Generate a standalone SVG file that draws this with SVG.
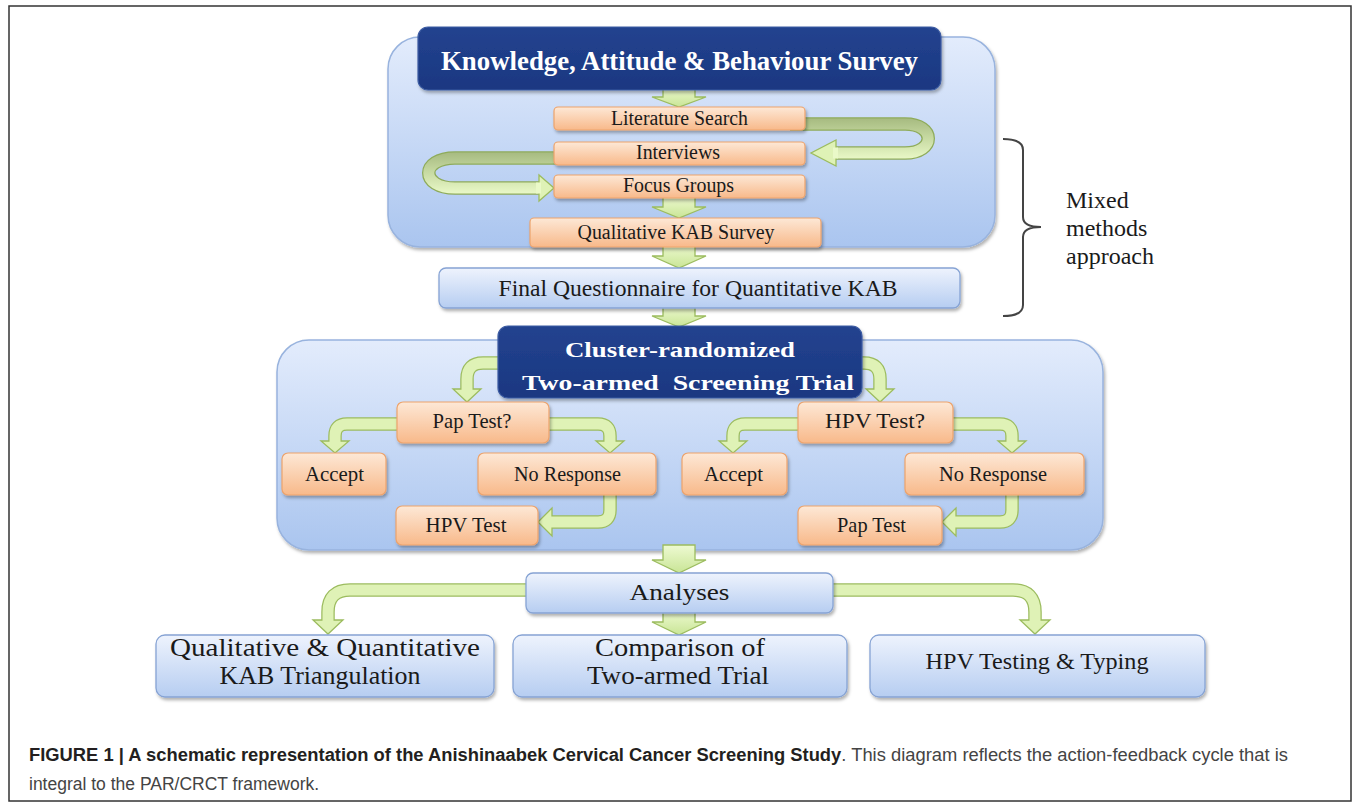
<svg xmlns="http://www.w3.org/2000/svg" width="1355" height="806" viewBox="0 0 1355 806">
<defs>
<linearGradient id="gCont" x1="0" y1="0" x2="0" y2="1"><stop offset="0" stop-color="#e3ecfc"/><stop offset="1" stop-color="#aac5ef"/></linearGradient>
<linearGradient id="gDark" x1="0" y1="0" x2="0" y2="1"><stop offset="0" stop-color="#23438f"/><stop offset="1" stop-color="#1a3781"/></linearGradient>
<linearGradient id="gOr" x1="0" y1="0" x2="0" y2="1"><stop offset="0" stop-color="#fde8d6"/><stop offset="1" stop-color="#f8b98a"/></linearGradient>
<linearGradient id="gBlue" x1="0" y1="0" x2="0" y2="1"><stop offset="0" stop-color="#eef3fd"/><stop offset="1" stop-color="#b6cdf1"/></linearGradient>
<linearGradient id="gGr" x1="0" y1="0" x2="0" y2="1"><stop offset="0" stop-color="#eefad2"/><stop offset="1" stop-color="#c9e596"/></linearGradient>
<linearGradient id="gLoopR" gradientUnits="userSpaceOnUse" x1="0" y1="118" x2="0" y2="160"><stop offset="0" stop-color="#a6ba80"/><stop offset="0.45" stop-color="#c5d8a0"/><stop offset="1" stop-color="#eaf9c8"/></linearGradient>
<linearGradient id="gLoopL" gradientUnits="userSpaceOnUse" x1="0" y1="152" x2="0" y2="194"><stop offset="0" stop-color="#a6ba80"/><stop offset="0.45" stop-color="#c5d8a0"/><stop offset="1" stop-color="#eaf9c8"/></linearGradient>
<filter id="sh" x="-10%" y="-20%" width="120%" height="150%"><feDropShadow dx="1.5" dy="2.5" stdDeviation="1.8" flood-color="#000" flood-opacity="0.3"/></filter>
</defs>
<style>
.cont{fill:url(#gCont);stroke:#98b3de;stroke-width:1.5;filter:url(#sh)}
.dark{fill:url(#gDark);stroke:#3d5ca3;stroke-width:1.2;filter:url(#sh)}
.or{fill:url(#gOr);stroke:#eda36c;stroke-width:1.2;filter:url(#sh)}
.bl{fill:url(#gBlue);stroke:#86a3d4;stroke-width:1.3;filter:url(#sh)}
.ht{font-family:"Liberation Serif","Times New Roman",serif;font-weight:bold;fill:#ffffff;text-anchor:middle}
.t{font-family:"Liberation Serif","Times New Roman",serif;fill:#1a1a1a;text-anchor:middle}
.fat{fill:url(#gGr);stroke:#9cbc5f;stroke-width:1.3}
.ao{fill:none;stroke:#9cbc5f;stroke-width:13.5}
.ai{fill:none;stroke:#dff2b6;stroke-width:11}
.ah{fill:#dff2b6;stroke:#9cbc5f;stroke-width:1.3}
.cap{font-family:"Liberation Sans",Arial,sans-serif;font-size:17.5px}
</style>
<rect x="9" y="6" width="1342" height="795" fill="#ffffff" stroke="#333333" stroke-width="1.5"/>

<g id="container-kab"><rect class="cont" x="388" y="37" width="607" height="210" rx="32"/></g>
<g id="container-trial"><rect class="cont" x="277" y="340" width="826" height="210" rx="32"/></g>

<g id="connectors">
<polygon class="fat" points="663,86 695,86 695,97 706,97 679,107 652,97 663,97"/>
<polygon class="fat" points="663,196 695,196 695,207 706,207 679,218 652,207 663,207"/>
<polygon class="fat" points="663,244 695,244 695,256 706,256 679,268 652,256 663,256"/>
<polygon class="fat" points="663,305 695,305 695,316 706,316 679,327 652,316 663,316"/>
<polygon class="fat" points="663,545 695,545 695,560 706,560 679,573 652,560 663,560"/>
<polygon class="fat" points="663,610 695,610 695,622 706,622 679,635 652,622 663,622"/>
<path d="M790 124 L905 124 C936 124 936 153 905 153 L834 153" fill="none" stroke="#8eab5a" stroke-width="13.5"/>
<path d="M790 124 L905 124 C936 124 936 153 905 153 L834 153" fill="none" stroke="url(#gLoopR)" stroke-width="11"/>
<polygon class="ah" points="836,140 836,166 811,153"/>
<path d="M838 153 L833 153" fill="none" stroke="#eaf9c8" stroke-width="11"/>
<path d="M570 158 L455 158 C420 158 420 188 455 188 L541 188" fill="none" stroke="#8eab5a" stroke-width="13.5"/>
<path d="M570 158 L455 158 C420 158 420 188 455 188 L541 188" fill="none" stroke="url(#gLoopL)" stroke-width="11"/>
<polygon class="ah" points="539,175 539,201 554,188"/>
<path d="M536 188 L541 188" fill="none" stroke="#eaf9c8" stroke-width="11"/>
<path class="ao" d="M505 363 L483 363 Q467 363 467 379 L467 390"/>
<polygon class="ah" points="453,389 481,389 467,402"/>
<path class="ai" d="M505 363 L483 363 Q467 363 467 379 L467 391"/>
<path class="ao" d="M858 363 L864 363 Q880 363 880 379 L880 390"/>
<polygon class="ah" points="866,389 894,389 880,402"/>
<path class="ai" d="M858 363 L864 363 Q880 363 880 379 L880 391"/>
<path class="ao" d="M400 424 L347 424 Q335 424 335 436 L335 442"/>
<polygon class="ah" points="321,441 349,441 335,453"/>
<path class="ai" d="M400 424 L347 424 Q335 424 335 436 L335 443"/>
<path class="ao" d="M548 424 L598 424 Q610 424 610 436 L610 442"/>
<polygon class="ah" points="596,441 624,441 610,453"/>
<path class="ai" d="M548 424 L598 424 Q610 424 610 436 L610 443"/>
<path class="ao" d="M610 490 L610 510 Q610 522 598 522 L551 522"/>
<polygon class="ah" points="552,508 552,536 538,522"/>
<path class="ai" d="M610 490 L610 510 Q610 522 598 522 L550 522"/>
<path class="ao" d="M802 424 L745 424 Q733 424 733 436 L733 442"/>
<polygon class="ah" points="719,441 747,441 733,453"/>
<path class="ai" d="M802 424 L745 424 Q733 424 733 436 L733 443"/>
<path class="ao" d="M950 424 L1000 424 Q1012 424 1012 436 L1012 442"/>
<polygon class="ah" points="998,441 1026,441 1012,453"/>
<path class="ai" d="M950 424 L1000 424 Q1012 424 1012 436 L1012 443"/>
<path class="ao" d="M1012 490 L1012 510 Q1012 522 1000 522 L955 522"/>
<polygon class="ah" points="956,508 956,536 942,522"/>
<path class="ai" d="M1012 490 L1012 510 Q1012 522 1000 522 L954 522"/>
<path class="ao" d="M535 590 L350 590 Q328 590 328 612 L328 621"/>
<polygon class="ah" points="313,620 343,620 328,634"/>
<path class="ai" d="M535 590 L350 590 Q328 590 328 612 L328 622"/>
<path class="ao" d="M825 590 L1013 590 Q1035 590 1035 612 L1035 621"/>
<polygon class="ah" points="1020,620 1050,620 1035,634"/>
<path class="ai" d="M825 590 L1013 590 Q1035 590 1035 612 L1035 622"/>
</g>

<g id="kab-header"><rect class="dark" x="418" y="27" width="523" height="63" rx="10"/>
<text class="ht" x="679.5" y="70" font-size="27" textLength="477" lengthAdjust="spacingAndGlyphs">Knowledge, Attitude &amp; Behaviour Survey</text></g>
<g id="literature-search"><rect class="or" x="554" y="107" width="251" height="23" rx="4"/>
<text class="t" x="679.5" y="125" font-size="20" textLength="137" lengthAdjust="spacingAndGlyphs">Literature Search</text></g>
<g id="interviews"><rect class="or" x="554" y="142" width="251" height="23" rx="4"/>
<text class="t" x="678" y="159" font-size="20" textLength="84" lengthAdjust="spacingAndGlyphs">Interviews</text></g>
<g id="focus-groups"><rect class="or" x="554" y="175" width="251" height="23" rx="4"/>
<text class="t" x="678.5" y="192" font-size="20" textLength="111" lengthAdjust="spacingAndGlyphs">Focus Groups</text></g>
<g id="qualitative-kab"><rect class="or" x="530" y="218" width="291" height="29" rx="4"/>
<text class="t" x="676" y="239" font-size="20" textLength="197" lengthAdjust="spacingAndGlyphs">Qualitative KAB Survey</text></g>
<g id="final-questionnaire"><rect class="bl" x="439" y="268" width="521" height="40" rx="7"/>
<text class="t" x="698" y="296" font-size="23" textLength="399" lengthAdjust="spacingAndGlyphs">Final Questionnaire for Quantitative KAB</text></g>

<g id="mixed-methods">
<path d="M1003 139 Q1023 139 1023 150 L1023 217 Q1023 227 1041 227 Q1023 227 1023 237 L1023 305 Q1023 316 1003 316" fill="none" stroke="#444444" stroke-width="2"/>
<text font-family="'Liberation Serif','Times New Roman',serif" font-size="24" fill="#1a1a1a"><tspan x="1066" y="208">Mixed</tspan><tspan x="1066" y="236">methods</tspan><tspan x="1066" y="264">approach</tspan></text>
</g>

<g id="trial-header"><rect class="dark" x="498" y="326" width="364" height="72" rx="10"/>
<text class="ht" x="680" y="357" font-size="22" textLength="230" lengthAdjust="spacingAndGlyphs">Cluster-randomized</text>
<text class="ht" x="688" y="390" font-size="22" textLength="332" lengthAdjust="spacingAndGlyphs" xml:space="preserve">Two-armed  Screening Trial</text></g>

<g id="pap-test-q"><rect class="or" x="397" y="402" width="152" height="41" rx="6"/>
<text class="t" x="472" y="428" font-size="21" textLength="79" lengthAdjust="spacingAndGlyphs">Pap Test?</text></g>
<g id="accept-1"><rect class="or" x="282" y="453" width="104" height="42" rx="6"/>
<text class="t" x="334.5" y="481" font-size="21" textLength="59" lengthAdjust="spacingAndGlyphs">Accept</text></g>
<g id="no-response-1"><rect class="or" x="478" y="453" width="178" height="42" rx="6"/>
<text class="t" x="567.5" y="481" font-size="21" textLength="107" lengthAdjust="spacingAndGlyphs">No Response</text></g>
<g id="hpv-test-1"><rect class="or" x="396" y="506" width="142" height="39" rx="6"/>
<text class="t" x="466" y="532" font-size="21" textLength="81" lengthAdjust="spacingAndGlyphs">HPV Test</text></g>

<g id="hpv-test-q"><rect class="or" x="798" y="402" width="155" height="41" rx="6"/>
<text class="t" x="875" y="428" font-size="21" textLength="100" lengthAdjust="spacingAndGlyphs">HPV Test?</text></g>
<g id="accept-2"><rect class="or" x="682" y="453" width="105" height="42" rx="6"/>
<text class="t" x="733.5" y="481" font-size="21" textLength="59" lengthAdjust="spacingAndGlyphs">Accept</text></g>
<g id="no-response-2"><rect class="or" x="905" y="453" width="179" height="42" rx="6"/>
<text class="t" x="993" y="481" font-size="21" textLength="108" lengthAdjust="spacingAndGlyphs">No Response</text></g>
<g id="pap-test-2"><rect class="or" x="798" y="506" width="144" height="39" rx="6"/>
<text class="t" x="871.5" y="532" font-size="21" textLength="69" lengthAdjust="spacingAndGlyphs">Pap Test</text></g>

<g id="analyses"><rect class="bl" x="526" y="573" width="307" height="40" rx="7"/>
<text class="t" x="679.5" y="600" font-size="23" textLength="100" lengthAdjust="spacingAndGlyphs">Analyses</text></g>
<g id="triangulation"><rect class="bl" x="156" y="635" width="338" height="62" rx="9"/>
<text class="t" x="325" y="656" font-size="25" textLength="310" lengthAdjust="spacingAndGlyphs">Qualitative &amp; Quantitative</text>
<text class="t" x="320" y="684" font-size="25" textLength="201" lengthAdjust="spacingAndGlyphs">KAB Triangulation</text></g>
<g id="comparison"><rect class="bl" x="513" y="635" width="334" height="62" rx="9"/>
<text class="t" x="680" y="656" font-size="25" textLength="170" lengthAdjust="spacingAndGlyphs">Comparison of</text>
<text class="t" x="678" y="684" font-size="25" textLength="182" lengthAdjust="spacingAndGlyphs">Two-armed Trial</text></g>
<g id="hpv-typing"><rect class="bl" x="870" y="635" width="335" height="62" rx="9"/>
<text class="t" x="1037" y="669" font-size="24" textLength="223" lengthAdjust="spacingAndGlyphs">HPV Testing &amp; Typing</text></g>

<g id="caption">
<text class="cap" x="29" y="761" textLength="1259" lengthAdjust="spacingAndGlyphs"><tspan font-weight="bold" fill="#231f20">FIGURE 1 | A schematic representation of the Anishinaabek Cervical Cancer Screening Study</tspan><tspan fill="#444444">. This diagram reflects the action-feedback cycle that is</tspan></text>
<text class="cap" x="29" y="790" fill="#444444">integral to the PAR/CRCT framework.</text>
</g>
</svg>
